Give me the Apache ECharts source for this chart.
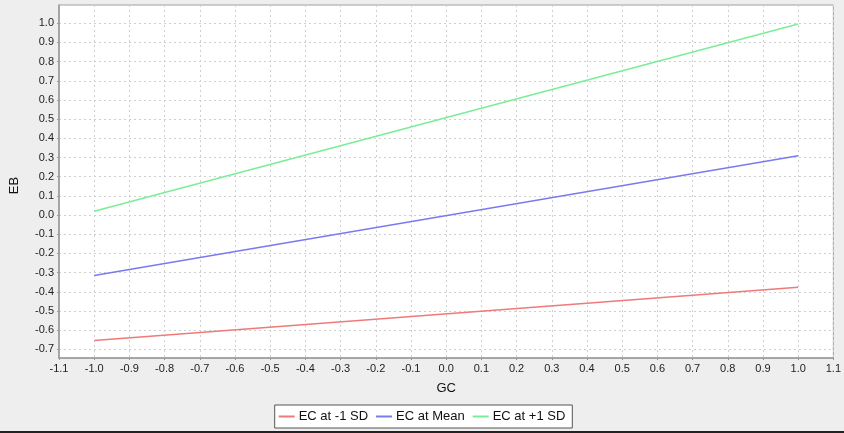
<!DOCTYPE html>
<html>
<head>
<meta charset="utf-8">
<script src="https://cdn.jsdelivr.net/npm/echarts@6/dist/echarts.min.js"></script>
<style>
html,body{margin:0;padding:0;background:#eeeeee;}
#c{width:844px;height:433px;}
</style>
</head>
<body>
<div id="c"></div>
<script>
const xValues = [-1.0, 1.0];
const seriesNames = ['EC at -1 SD', 'EC at Mean', 'EC at +1 SD'];
const lowSD = [-0.654, -0.376];
const meanSD = [-0.315, 0.309];
const highSD = [0.020, 0.996];
const xAxisTitle = 'GC';
const yAxisTitle = 'EB';

const colors = ['#ee7a7a', '#7a7aee', '#7aee96'];
const font = '"Liberation Sans", Arial, sans-serif';
const pair = (xs, ys) => xs.map((x, i) => [x, ys[i]]);
const fmt = v => (Math.abs(v) < 1e-9 ? 0 : v).toFixed(1);

const chart = echarts.init(document.getElementById('c'), null, {renderer: 'canvas'});
chart.setOption({
  backgroundColor: '#eeeeee',
  animation: false,
  textStyle: {fontFamily: font},
  grid: {left: 54, right: 9, top: 5, bottom: 75, show: true, backgroundColor: '#ffffff', borderColor: '#a0a0a0', borderWidth: 1},
  legend: {
    data: seriesNames,
    bottom: 5,
    left: 'center',
    itemWidth: 16,
    itemHeight: 2,
    itemGap: 8,
    icon: 'rect',
    padding: [5, 7, 5, 4],
    borderColor: '#555',
    borderWidth: 1,
    backgroundColor: '#ffffff',
    textStyle: {fontFamily: font, fontSize: 13, color: '#111', padding: [0, 0, 0, -1]}
  },
  xAxis: {
    type: 'value', min: -1.1, max: 1.1, interval: 0.1,
    name: xAxisTitle, nameLocation: 'middle', nameGap: 24,
    nameTextStyle: {fontFamily: font, fontSize: 13, color: '#111'},
    axisLine: {show: true, onZero: false, lineStyle: {color: '#999', width: 1.5}},
    axisTick: {show: true, length: 2, lineStyle: {color: '#999'}},
    axisLabel: {fontSize: 11, color: '#222', margin: 5, formatter: fmt, showMinLabel: true, showMaxLabel: true},
    splitLine: {show: true, lineStyle: {color: '#cfcfcf', type: [2, 3], width: 1}}
  },
  yAxis: {
    type: 'value', min: -0.745, max: 1.095, splitNumber: 18,
    name: yAxisTitle, nameLocation: 'middle', nameGap: 38, nameRotate: 90,
    nameTextStyle: {fontFamily: font, fontSize: 13, color: '#111', padding: [0, 0, 0, -8]},
    axisLine: {show: true, onZero: false, lineStyle: {color: '#999', width: 1.5}},
    axisTick: {show: true, length: 2, lineStyle: {color: '#999'}},
    axisLabel: {fontSize: 11, color: '#222', margin: 5, formatter: fmt, showMinLabel: false, showMaxLabel: false},
    splitLine: {show: true, lineStyle: {color: '#cfcfcf', type: [2, 3], width: 1}}
  },
  series: [
    {name: seriesNames[0], type: 'line', data: pair(xValues, lowSD), showSymbol: false, lineStyle: {color: colors[0], width: 1.5}, itemStyle: {color: colors[0]}},
    {name: seriesNames[1], type: 'line', data: pair(xValues, meanSD), showSymbol: false, lineStyle: {color: colors[1], width: 1.5}, itemStyle: {color: colors[1]}},
    {name: seriesNames[2], type: 'line', data: pair(xValues, highSD), showSymbol: false, lineStyle: {color: colors[2], width: 1.5}, itemStyle: {color: colors[2]}}
  ],
  graphic: [{type: 'rect', left: 0, top: 431, shape: {width: 844, height: 2}, style: {fill: '#222'}, silent: true}]
});
</script>
</body>
</html>
